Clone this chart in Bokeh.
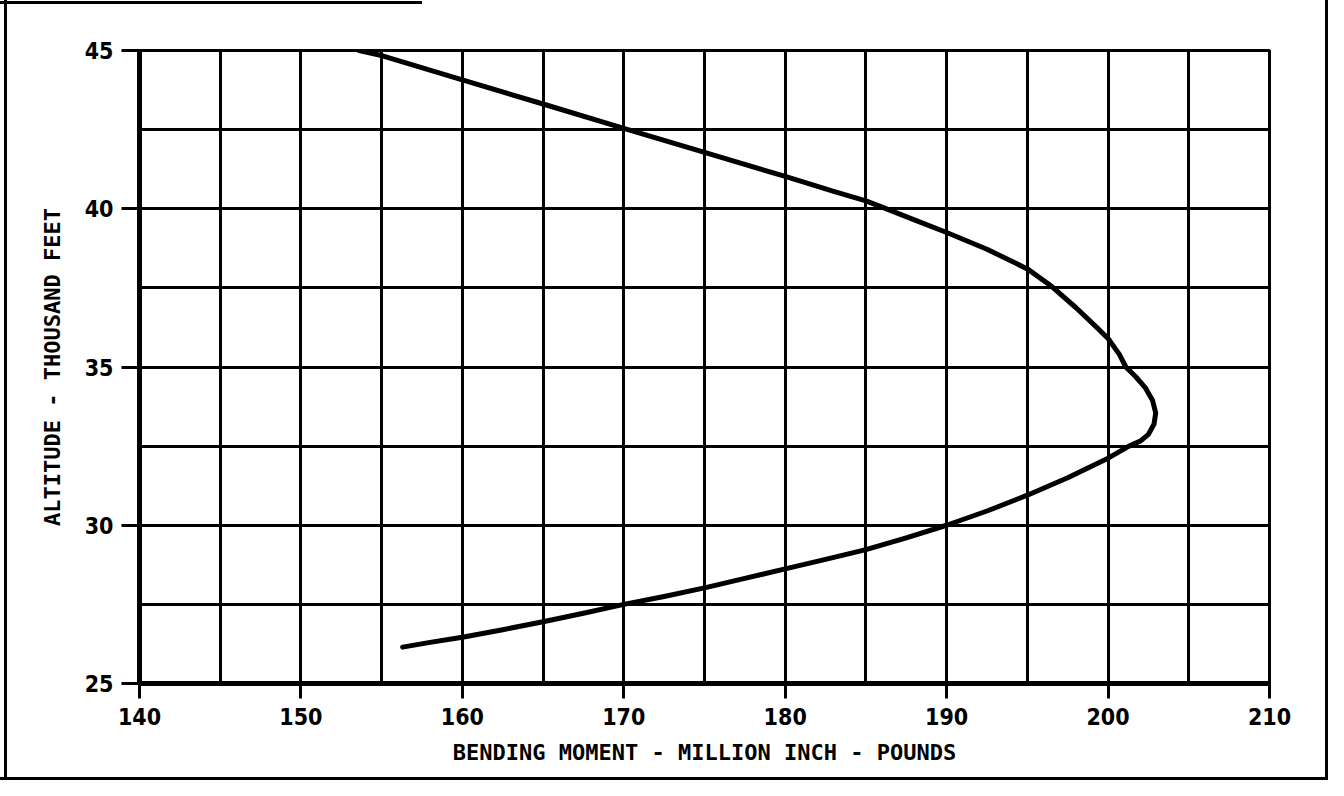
from bokeh.plotting import figure
from bokeh.models import FixedTicker
from bokeh.embed import file_html
from bokeh.resources import INLINE

# Bending moment (million inch-pounds) vs altitude (thousand feet)
moment = [153.6, 155.0, 160.0, 165.0, 170.0, 175.0, 180.0, 183.0, 185.0, 186.0,
          188.0, 190.0, 192.5, 195.0, 196.5, 198.0, 199.2, 200.0, 200.7, 201.1,
          201.7, 202.3, 202.75, 202.95, 202.85, 202.5, 202.0, 201.3, 200.0, 197.5,
          195.0, 192.5, 190.0, 187.5, 185.0, 182.5, 180.0, 177.5, 175.0, 172.5,
          170.0, 167.5, 165.0, 162.5, 160.0, 158.0, 156.3]
altitude = [45.0, 44.84, 44.07, 43.31, 42.54, 41.78, 41.02, 40.55, 40.25, 40.05,
            39.65, 39.25, 38.72, 38.1, 37.55, 36.88, 36.3, 35.9, 35.4, 35.0,
            34.7, 34.35, 33.95, 33.55, 33.2, 32.87, 32.66, 32.5, 32.12, 31.5,
            30.95, 30.45, 30.0, 29.6, 29.23, 28.92, 28.62, 28.32, 28.02, 27.75,
            27.5, 27.22, 26.95, 26.7, 26.46, 26.3, 26.15]

x_ticks = [140, 150, 160, 170, 180, 190, 200, 210]
y_ticks = [25, 30, 35, 40, 45]
x_grid = [145, 150, 155, 160, 165, 170, 175, 180, 185, 190, 195, 200, 205]
y_grid = [27.5, 30, 32.5, 35, 37.5, 40, 42.5]

TICK_FONT = "DejaVu Sans Condensed"
LABEL_FONT = "DejaVu Sans Mono"
W, H = 1328, 780

p = figure(width=W, height=H, x_range=(140, 210), y_range=(25, 45),
           output_backend="svg", toolbar_location=None,
           min_border_left=139, min_border_right=W - 1269,
           min_border_top=50, min_border_bottom=H - 683)

p.background_fill_color = "white"
p.border_fill_color = None
p.outline_line_color = "black"
p.outline_line_width = 3

# outer scanned border (left, right, bottom and a partial top edge)
p.styles = {
    "background-color": "white",
    "background-image": ("linear-gradient(black, black), linear-gradient(black, black), "
                         "linear-gradient(black, black), linear-gradient(black, black)"),
    "background-size": "3px 100%, 3px 100%, 100% 3px, 422px 3px",
    "background-position": "4px 0px, right 0px top 0px, left 0px bottom 0px, 0px 1px",
    "background-repeat": "no-repeat",
}

for ax in (p.xaxis[0], p.yaxis[0]):
    ax.axis_line_color = "black"
    ax.axis_line_width = 5
    ax.major_tick_line_color = "black"
    ax.major_tick_line_width = 3
    ax.major_tick_in = 0
    ax.minor_tick_line_color = None
    ax.major_label_text_font = TICK_FONT
    ax.major_label_text_font_size = "23px"
    ax.major_label_text_font_style = "bold"
    ax.major_label_text_color = "black"
    ax.axis_label_text_font = LABEL_FONT
    ax.axis_label_text_font_size = "22px"
    ax.axis_label_text_font_style = "bold"
    ax.axis_label_text_color = "black"

p.xaxis.ticker = FixedTicker(ticks=x_ticks)
p.yaxis.ticker = FixedTicker(ticks=y_ticks)
p.xaxis.major_tick_out = 15
p.yaxis.major_tick_out = 18
p.xaxis.major_label_standoff = 9
p.yaxis.major_label_standoff = 8
p.xaxis.axis_label = "BENDING MOMENT - MILLION INCH - POUNDS"
p.yaxis.axis_label = "ALTITUDE - THOUSAND FEET"
p.xaxis.axis_label_standoff = 12
p.yaxis.axis_label_standoff = 17

p.xgrid.ticker = FixedTicker(ticks=x_grid)
p.ygrid.ticker = FixedTicker(ticks=y_grid)
for g in (p.xgrid[0], p.ygrid[0]):
    g.grid_line_color = "black"
    g.grid_line_width = 3
    g.grid_line_alpha = 1.0

p.line(moment, altitude, line_color="black", line_width=5,
       line_join="round", line_cap="round")

open("out.html", "w").write(file_html(p, INLINE))
